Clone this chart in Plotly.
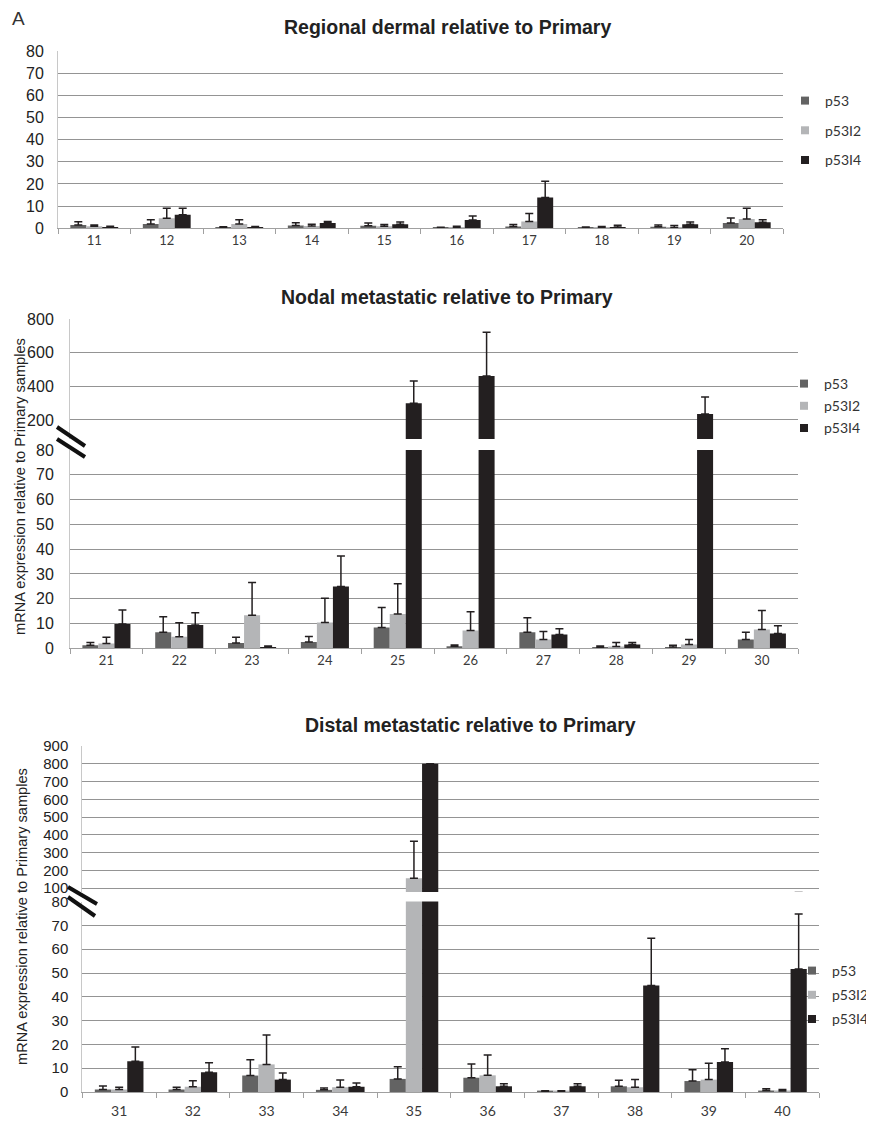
import plotly.graph_objects as go

# page size and the browser's default body margin (the figure div starts at 8,8)
PAGE_W, PAGE_H, BODY = 874, 1124, 8
W, H = PAGE_W - BODY, PAGE_H - BODY

series_names = ['p53', 'p53I2', 'p53I4']
series_colors = ['#636363', '#b4b5b7', '#231f20']

# ---- Panel 1: Regional dermal relative to Primary ----
regional_samples = ['11', '12', '13', '14', '15', '16', '17', '18', '19', '20']
regional_p53 = [1.5, 1.9, 0.3, 1.3, 1.2, 0.2, 0.8, 0.3, 0.7, 2.4]
regional_p53_err = [1.4, 2.0, 0.4, 1.2, 1.2, 0.3, 0.9, 0.3, 0.8, 2.2]
regional_p53I2 = [0.9, 4.5, 1.9, 1.0, 0.9, 0.4, 3.1, 0.4, 0.4, 4.2]
regional_p53I2_err = [0.6, 4.6, 2.0, 0.8, 0.8, 0.5, 3.6, 0.4, 0.9, 4.9]
regional_p53I4 = [0.5, 6.1, 0.4, 2.4, 1.8, 3.7, 13.9, 0.6, 1.8, 2.7]
regional_p53I4_err = [0.4, 3.0, 0.4, 0.7, 1.0, 1.9, 7.3, 0.8, 1.0, 1.2]

# ---- Panel 2: Nodal metastatic relative to Primary ----
nodal_samples = ['21', '22', '23', '24', '25', '26', '27', '28', '29', '30']
nodal_p53 = [1.2, 6.5, 2.1, 2.5, 8.4, 0.8, 6.5, 0.4, 0.5, 3.5]
nodal_p53_err = [1.1, 6.2, 2.4, 2.3, 8.1, 0.5, 5.8, 0.5, 0.7, 3.0]
nodal_p53I2 = [1.9, 4.7, 13.3, 10.4, 13.8, 7.2, 3.5, 0.7, 1.5, 7.6]
nodal_p53I2_err = [2.6, 5.6, 13.2, 9.8, 12.2, 7.5, 3.3, 1.6, 2.1, 7.6]
nodal_p53I4 = [9.8, 9.4, 0.5, 24.9, 300, 461, 5.6, 1.5, 236, 6.0]
nodal_p53I4_err = [5.7, 4.9, 0.4, 12.3, 131, 261, 2.3, 0.8, 100, 3.1]

# ---- Panel 3: Distal metastatic relative to Primary ----
distal_samples = ['31', '32', '33', '34', '35', '36', '37', '38', '39', '40']
distal_p53 = [1.1, 1.0, 6.9, 0.9, 5.5, 6.0, 0.3, 2.4, 4.6, 0.6]
distal_p53_err = [1.4, 1.0, 6.7, 0.8, 5.1, 5.8, 0.2, 2.5, 4.8, 0.8]
distal_p53I2 = [1.1, 2.2, 11.6, 2.0, 155, 7.0, 0.3, 2.0, 5.2, 0.4]
distal_p53I2_err = [0.9, 2.5, 12.3, 3.0, 209, 8.5, 0.2, 3.2, 6.9, 0.7]
distal_p53I4 = [12.9, 8.3, 5.2, 2.2, 800, 2.4, 2.4, 44.7, 12.6, 51.7]
distal_p53I4_err = [6.0, 4.0, 2.8, 1.6, 0, 1.1, 1.1, 19.9, 5.6, 23.1]

# ---- tick labels ----
lower_ticks = [0, 10, 20, 30, 40, 50, 60, 70, 80]
nodal_upper_ticks = [200, 400, 600, 800]
distal_upper_ticks = [100, 200, 300, 400, 500, 600, 700, 800, 900]

titles = ['Regional dermal relative to Primary',
          'Nodal metastatic relative to Primary',
          'Distal metastatic relative to Primary']
y_title = 'mRNA expression relative to Primary samples'


def px_x(p):
    return (p - BODY) / W


def px_y(p):
    return 1 - (p - BODY) / H


ARIAL = 'Liberation Sans, Arial, sans-serif'
CALIBRI = 'Lato, Open Sans, sans-serif'
GRID = '#949494'

panels = [
    dict(cats=regional_samples,
         vals=[regional_p53, regional_p53I2, regional_p53I4],
         errs=[regional_p53_err, regional_p53I2_err, regional_p53I4_err],
         x='x', ylow='y', yup=None, legend='legend'),
    dict(cats=nodal_samples,
         vals=[nodal_p53, nodal_p53I2, nodal_p53I4],
         errs=[nodal_p53_err, nodal_p53I2_err, nodal_p53I4_err],
         x='x2', ylow='y2', yup='y3', legend='legend2'),
    dict(cats=distal_samples,
         vals=[distal_p53, distal_p53I2, distal_p53I4],
         errs=[distal_p53_err, distal_p53I2_err, distal_p53I4_err],
         x='x3', ylow='y4', yup='y5', legend='legend3'),
]

fig = go.Figure()

for p in panels:
    yaxes = [p['ylow']] + ([p['yup']] if p['yup'] else [])
    for yax in yaxes:
        for name, color, vals, errs in zip(series_names, series_colors, p['vals'], p['errs']):
            fig.add_trace(go.Bar(
                x=p['cats'], y=vals, name=name,
                marker=dict(color=color, line=dict(width=0)),
                error_y=dict(type='data', symmetric=False, array=errs,
                             arrayminus=[0] * len(errs),
                             color='#231f20', thickness=1.5, width=4),
                xaxis=p['x'], yaxis=yax, showlegend=False,
            ))
    for name, color in zip(series_names, series_colors):
        fig.add_trace(go.Scatter(
            x=[None], y=[None], mode='markers', name=name,
            marker=dict(symbol='square', size=8, color=color),
            xaxis=p['x'], yaxis=p['ylow'], legend=p['legend'],
            legendgroup=p['legend'] + name, hoverinfo='skip',
        ))


def xaxis_cfg(left, right, anchor, fsize, standoff):
    return dict(domain=[px_x(left), px_x(right)], anchor=anchor, type='category',
                showline=True, linecolor='#a0a0a0', linewidth=1,
                ticks='outside', tickson='boundaries', ticklen=5, tickcolor='#a0a0a0',
                showgrid=False, zeroline=False, automargin=False,
                ticklabelstandoff=standoff,
                tickfont=dict(family=CALIBRI, size=fsize, color='#3a3a3a'))


def yaxis_cfg(top, bottom, anchor, rng, tickvals, fsize, standoff):
    return dict(domain=[px_y(bottom), px_y(top)], anchor=anchor, range=rng,
                tickmode='array', tickvals=tickvals,
                showgrid=True, gridcolor=GRID, gridwidth=1,
                showline=True, linecolor='#c8c8c8', linewidth=1,
                zeroline=False, ticks='', ticklabelstandoff=standoff, automargin=False,
                tickfont=dict(family=ARIAL, size=fsize, color='#222222'))


def legend_cfg(left, top, gap):
    return dict(x=px_x(left), xanchor='left', y=px_y(top), yanchor='top',
                xref='paper', yref='paper', bgcolor='rgba(0,0,0,0)',
                font=dict(family=CALIBRI, size=14, color='#333333'),
                tracegroupgap=gap, itemwidth=30)


fig.update_layout(
    width=W, height=H, autosize=False,
    margin=dict(l=0, r=0, t=0, b=0, pad=0, autoexpand=False),
    paper_bgcolor='white', plot_bgcolor='white',
    barmode='group', bargap=0.34, bargroupgap=0,
    xaxis=xaxis_cfg(58, 783, 'y', 13, 0),
    yaxis=yaxis_cfg(51, 228.3, 'x', [0, 80], lower_ticks, 16, 10),
    xaxis2=xaxis_cfg(70, 798.3, 'y2', 13, 0),
    yaxis2=yaxis_cfg(450, 648.3, 'x2', [0, 80], lower_ticks, 16, 12),
    yaxis3=yaxis_cfg(319, 439, 'x2', [87, 800], nodal_upper_ticks, 16, 12),
    xaxis3=xaxis_cfg(82.3, 819.3, 'y4', 14, 6),
    yaxis4=yaxis_cfg(901.6, 1092, 'x3', [0, 80], lower_ticks, 15, 10),
    yaxis5=yaxis_cfg(746, 892, 'x3', [77.5, 900], distal_upper_ticks, 15, 10),
    legend=legend_cfg(785, 85, 8.5),
    legend2=legend_cfg(784, 368, 1),
    legend3=legend_cfg(792, 955, 3),
    showlegend=True,
)

annotations = [
    dict(text='A', x=px_x(18), y=px_y(18), font=dict(family='Liberation Sans Narrow, Liberation Sans', size=19, color='#333333')),
    dict(text='<b>' + titles[0] + '</b>', x=px_x(447), y=px_y(27), font=dict(family=ARIAL, size=19.5, color='#222222')),
    dict(text='<b>' + titles[1] + '</b>', x=px_x(447), y=px_y(297), font=dict(family=ARIAL, size=19.5, color='#222222')),
    dict(text='<b>' + titles[2] + '</b>', x=px_x(470), y=px_y(725), font=dict(family=ARIAL, size=19.5, color='#222222')),
    dict(text=y_title, x=px_x(20), y=px_y(487), textangle=-90, font=dict(family=ARIAL, size=14.6, color='#222222')),
    dict(text=y_title, x=px_x(22), y=px_y(917), textangle=-90, font=dict(family=ARIAL, size=14.6, color='#222222')),
]
for a in annotations:
    a.update(xref='paper', yref='paper', showarrow=False, xanchor='center', yanchor='middle')
fig.update_layout(annotations=annotations)

# axis-break marks
breaks = [
    ((57, 427), (85, 446)), ((57, 439), (85, 457)),
    ((68, 887), (97, 904)), ((68, 897), (95, 916)),
]
for (x0, y0), (x1, y1) in breaks:
    fig.add_shape(type='line', xref='paper', yref='paper',
                  x0=px_x(x0), y0=px_y(y0), x1=px_x(x1), y1=px_y(y1),
                  line=dict(color='#111111', width=4), layer='above')

fig.write_html('out.html')
